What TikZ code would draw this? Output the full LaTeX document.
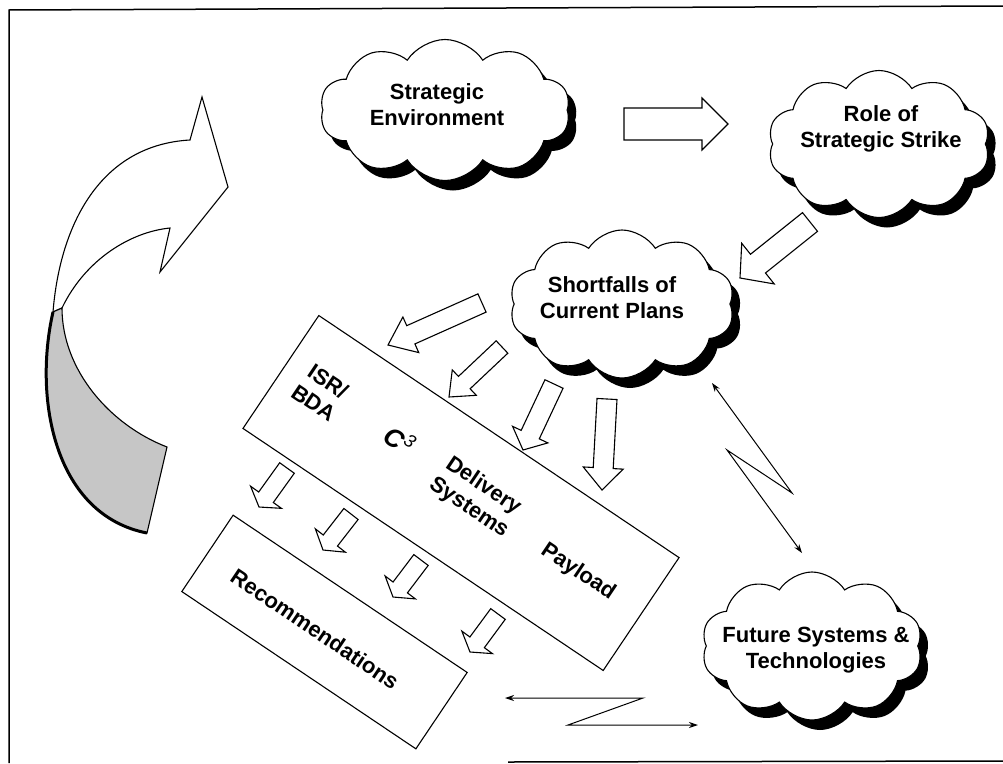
\documentclass[tikz,border=0pt]{standalone}
\usepackage{fontspec}
\setmainfont{Liberation Sans}
\usetikzlibrary{shapes.symbols,shadows,calc,arrows.meta}
\newcommand{\hollowarrow}[5]{%
  \coordinate (ha-h) at ($(#2)!#5!(#1)$);
  \draw[hollow] ($(#1)!#3!90:(#2)$) -- ($(ha-h)!#3!90:(#2)$) -- ($(ha-h)!#4!90:(#2)$) -- (#2) -- ($(ha-h)!#4!-90:(#2)$) -- ($(ha-h)!#3!-90:(#2)$) -- ($(#1)!#3!-90:(#2)$) -- cycle;}
\begin{document}
\begin{tikzpicture}[x=1pt,y=-1pt,
  lbl/.style={font=\fontsize{22}{26}\selectfont\bfseries, align=center, inner sep=0pt},
  cloudshape/.style={cloud, cloud puffs=10, cloud puff arc=115, cloud ignores aspect, draw, line width=1.1pt, fill=white, inner sep=0pt,
    drop shadow={shadow xshift=8pt, shadow yshift=-10pt, fill=black, opacity=1}},
  hollow/.style={draw, line width=1.1pt, fill=white, line join=miter},
  boxshape/.style={draw, line width=1.1pt, rotate=-33.9, inner sep=0pt},
  dbl/.style={line width=1pt, {Stealth[length=9pt,width=6pt]}-{Stealth[length=9pt,width=6pt]}},
  frame/.style={line width=1.5pt}]
\useasboundingbox[fill=white] (0,0) rectangle (1003,763);
% frame
\draw[frame] (9,763) -- (9,10) -- (1003,6);
\draw[frame] (508,762) -- (1003,761);
% big curved arrow
\coordinate (t1) at (53,312);
\coordinate (t2) at (62,308);
\draw[line width=1.1pt, fill=white, line join=miter] (t1) .. controls (60,225) and (100,145) .. (190,140) -- (202,97) -- (228,187) -- (160,272) -- (170,228) .. controls (130,232) and (85,260) .. (t2) -- cycle;
\draw[line width=1.1pt, fill=gray!45] (t1) .. controls (33,400) and (55,515) .. (147,533) -- (167,447) .. controls (110,425) and (62,370) .. (t2) -- cycle;
\draw[line width=3pt] (t1) .. controls (33,400) and (55,515) .. (147,533);
% clouds
\node[cloudshape, minimum width=250pt, minimum height=141pt] (env) at (445,110) {};
\node[cloudshape, minimum width=222pt, minimum height=147pt] (role) at (879,144) {};
\node[cloudshape, minimum width=225pt, minimum height=148pt] (short) at (622,304) {};
\node[cloudshape, minimum width=221pt, minimum height=148pt] (fut) at (812,646) {};
\node[lbl] (envt) at (437,105) {Strategic\\Environment};
\node[lbl] (rolet) at (881,129) {Role of\\Strategic Strike};
\node[lbl] (shortt) at (612,298) {Shortfalls of\\Current Plans};
\node[lbl] (futt) at (816,650) {Future Systems \&\\Technologies};
% boxes
\node[boxshape, minimum width=434pt, minimum height=136pt] (sys) at (461,493) {};
\node[boxshape, minimum width=282pt, minimum height=92pt] (rec) at (324.5,632) {};
\node[lbl, rotate=-33.9] (isr) at (321,392) {ISR/\\BDA};
\node[lbl, rotate=-33.9] (c3) at (400,440) {\fontsize{26}{26}\selectfont\itshape C\textsuperscript{\mdseries 3}};
\node[lbl, rotate=-33.9] (del) at (476,497) {Delivery\\Systems};
\node[lbl, rotate=-33.9] (pay) at (578,572) {Payload};
\node[lbl, rotate=-33.9] (rect) at (315,629) {Recommendations};
% hollow arrows
\coordinate (a0t) at (624,124); \coordinate (a0h) at (728,124);
\hollowarrow{a0t}{a0h}{16pt}{26pt}{26pt}
\coordinate (a1t) at (810,222); \coordinate (a1h) at (740,278);
\hollowarrow{a1t}{a1h}{12pt}{26pt}{23pt}
\coordinate (a2t) at (482,303); \coordinate (a2h) at (388,345);
\hollowarrow{a2t}{a2h}{10pt}{19.5pt}{25pt}
\coordinate (a3t) at (502,347); \coordinate (a3h) at (449,397);
\hollowarrow{a3t}{a3h}{8.5pt}{17.5pt}{21pt}
\coordinate (a4t) at (554,384); \coordinate (a4h) at (523,450);
\hollowarrow{a4t}{a4h}{10pt}{19.5pt}{17pt}
\coordinate (a5t) at (607,399); \coordinate (a5h) at (602,490);
\hollowarrow{a5t}{a5h}{10pt}{20pt}{22pt}
\coordinate (e1t) at (287,468); \coordinate (e1h) at (259,507);
\hollowarrow{e1t}{e1h}{9pt}{19pt}{12pt}
\coordinate (e2t) at (351,514); \coordinate (e2h) at (323,550);
\hollowarrow{e2t}{e2h}{9pt}{19pt}{12pt}
\coordinate (e3t) at (421,560); \coordinate (e3h) at (393,597);
\hollowarrow{e3t}{e3h}{9pt}{19pt}{12pt}
\coordinate (e4t) at (498,614); \coordinate (e4h) at (470,652);
\hollowarrow{e4t}{e4h}{9pt}{19pt}{12pt}
% zigzag double arrows
\coordinate (z1a) at (712,383); \coordinate (z1b) at (802,553);
\draw[dbl] (z1a) -- (792,493) -- (727,450) -- (z1b);
\coordinate (z2a) at (505,698); \coordinate (z2b) at (698,725);
\draw[dbl] (z2a) -- (643,698) -- (568,725) -- (z2b);
\end{tikzpicture}
\end{document}
